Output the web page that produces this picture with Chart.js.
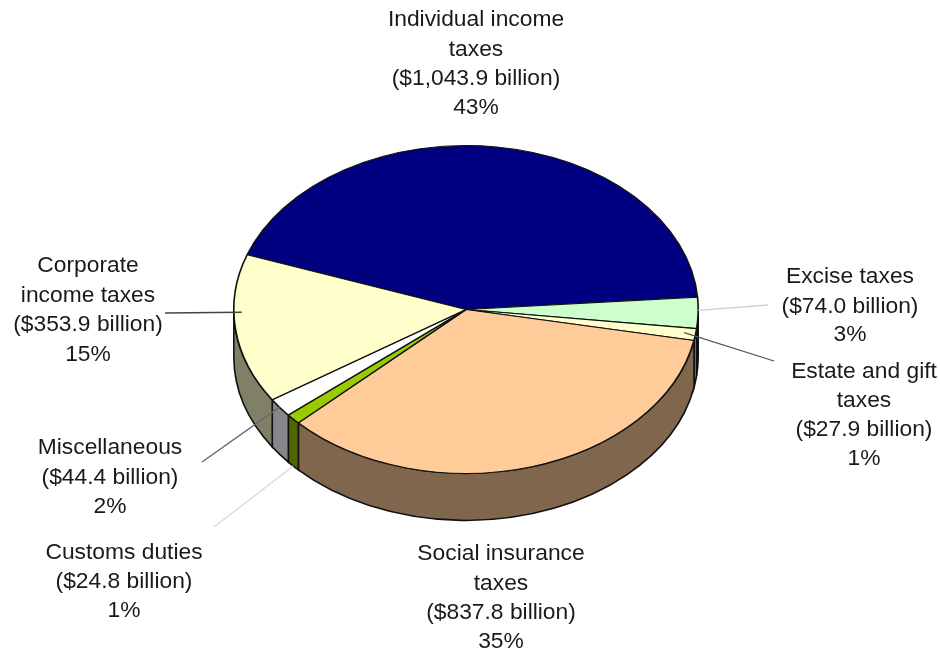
<!DOCTYPE html>
<html>
<head>
<meta charset="utf-8">
<style>html,body{margin:0;padding:0;background:#fff}canvas{display:block;filter:blur(0.4px)}</style>
<script src="https://cdn.jsdelivr.net/npm/chart.js@4/dist/chart.umd.min.js"></script>
</head>
<body>
<canvas id="c" width="940" height="654"></canvas>
<script>
const categories = ["Individual income taxes","Excise taxes","Estate and gift taxes","Social insurance taxes","Customs duties","Miscellaneous","Corporate income taxes"];
const billions = [1043.9,74.0,27.9,837.8,24.8,44.4,353.9];
const amountLabels = ["($1,043.9 billion)","($74.0 billion)","($27.9 billion)","($837.8 billion)","($24.8 billion)","($44.4 billion)","($353.9 billion)"];
const percentLabels = ["43%","3%","1%","35%","1%","2%","15%"];
const nameLines = [["Individual income","taxes"],["Excise taxes"],["Estate and gift","taxes"],["Social insurance","taxes"],["Customs duties"],["Miscellaneous"],["Corporate","income taxes"]];
const topColors = ["#000080","#CCFFCC","#FFFFCC","#FFCC99","#99CC00","#FFFFFF","#FFFFCC"];
const sideColors = ["#000040","#667F66","#808066","#7F664D","#4D6600","#86868C","#808066"];

// layout of the 3D projection and annotations
const tilt = 0.706, depth = 47, centerY = 309.5;
const labelBoxes = [
  {x:476,ys:[20,50,79,108]},
  {x:850,ys:[277,307,335]},
  {x:864,ys:[372,401,430,459]},
  {x:501,ys:[554,584,613,642]},
  {x:124,ys:[553,582,611]},
  {x:110,ys:[448,478,507]},
  {x:88,ys:[266,296,325,355]}
];
const leaders = [
  {i:1,t:.42,r:1,z:0,to:[768,305],color:"#cfcfcf"},
  {i:2,t:.43,r:.95,z:0,to:[774,361],color:"#555"},
  {i:4,t:.5,r:1,z:1,to:[214,527],color:"#d8d8d8"},
  {i:5,t:.53,r:1,z:0,to:[202,462],color:"#666"},
  {i:6,t:.613,r:.966,z:0,to:[165,313],color:"#444"}
];

const pie3d = {
  id:"pie3d",
  beforeDatasetsDraw(chart){
    const ctx = chart.ctx, arcs = chart.getDatasetMeta(0).data;
    ctx.save();
    arcs.forEach((arc,i)=>{
      const {x,y,startAngle,endAngle,outerRadius:R} = arc.getProps(["x","y","startAngle","endAngle","outerRadius"],true);
      const a = Math.max(startAngle,0), b = Math.min(endAngle,Math.PI);
      if(b<=a) return;
      const ry = R*tilt;
      ctx.beginPath();
      ctx.ellipse(x,y,R,ry,0,a,b,false);
      ctx.lineTo(x+R*Math.cos(b),y+ry*Math.sin(b)+depth);
      ctx.ellipse(x,y+depth,R,ry,0,b,a,true);
      ctx.closePath();
      ctx.fillStyle = sideColors[i];
      ctx.fill();
      ctx.lineWidth = 1.6;
      ctx.strokeStyle = "#111";
      ctx.stroke();
    });
    ctx.restore();
    const p = arcs[0].getProps(["x","y"],true);
    ctx.save();
    ctx.translate(p.x,p.y);
    ctx.scale(1,tilt);
    ctx.translate(-p.x,-p.y);
  },
  afterDatasetsDraw(chart){
    const ctx = chart.ctx, arcs = chart.getDatasetMeta(0).data;
    ctx.restore();
    ctx.save();
    leaders.forEach(l=>{
      const {x,y,startAngle,endAngle,outerRadius:R} = arcs[l.i].getProps(["x","y","startAngle","endAngle","outerRadius"],true);
      const ang = startAngle+(endAngle-startAngle)*l.t;
      ctx.beginPath();
      ctx.moveTo(x+R*l.r*Math.cos(ang),y+R*l.r*tilt*Math.sin(ang)+l.z*depth);
      ctx.lineTo(l.to[0],l.to[1]);
      ctx.lineWidth = 1.3;
      ctx.strokeStyle = l.color;
      ctx.stroke();
    });
    ctx.font = '22.8px "Liberation Sans", Arial, sans-serif';
    ctx.fillStyle = "#1a1a1a";
    ctx.textAlign = "center";
    ctx.textBaseline = "middle";
    categories.forEach((c,i)=>{
      const lines = [...nameLines[i],amountLabels[i],percentLabels[i]];
      lines.forEach((s,k)=>ctx.fillText(s,labelBoxes[i].x,labelBoxes[i].ys[k]));
    });
    ctx.restore();
  }
};

new Chart(document.getElementById("c"),{
  type:"pie",
  data:{labels:categories,datasets:[{
    data:billions,
    backgroundColor:topColors,
    borderColor:"#111",
    borderWidth:1.6,
    clip:false
  }]},
  options:{
    responsive:false,
    animation:false,
    rotation:-70.5,
    layout:{padding:{left:233,right:241,top:centerY-233,bottom:654-centerY-233}},
    plugins:{legend:{display:false},tooltip:{enabled:false},title:{display:false}}
  },
  plugins:[pie3d]
});
</script>
</body>
</html>
